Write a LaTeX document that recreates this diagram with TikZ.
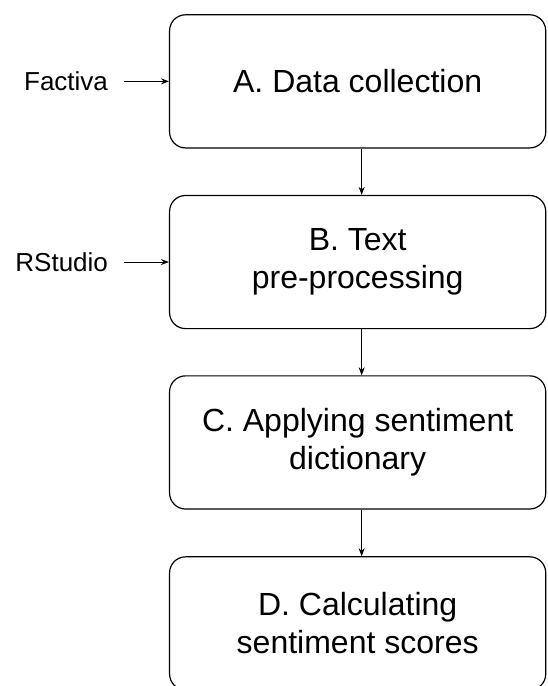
\documentclass[tikz,border=0pt]{standalone}
\usepackage{fontspec}
\setmainfont{Liberation Sans}
\usetikzlibrary{arrows.meta}

\tikzset{
	stagebox/.style={draw, line width=1.2pt, rounded corners=16pt, align=center,
		minimum width=13.22cm, minimum height=4.68cm, inner sep=0pt,
		font=\fontsize{32}{38}\selectfont},
	toollabel/.style={anchor=east, inner sep=0pt, font=\fontsize{26}{30}\selectfont},
	flow/.style={-{Stealth[length=8pt,width=6pt]}, line width=1pt}
}

\begin{document}
\begin{tikzpicture}
	\useasboundingbox (0,0) rectangle (19.23,24.11);
	
	%stages
	\node[stagebox] (collect) 	at (12.57,21.25) 	{A. Data collection};
	\node[stagebox] (prep) 		at (12.57,14.90) 	{B. Text\\pre-processing};
	\node[stagebox] (dict) 		at (12.57,8.56) 	{C. Applying sentiment\\dictionary};
	\node[stagebox] (score) 	at (12.57,2.20) 	{D. Calculating\\sentiment scores};
	
	%tools
	\node[toollabel] (factiva) 	at (3.80,21.25) 	{Factiva};
	\node[toollabel] (rstudio) 	at (3.80,14.90) 	{RStudio};
	
	%arrows
	\draw[flow, shorten <=16pt]	(factiva.east) -- (collect.west);
	\draw[flow, shorten <=16pt]	(rstudio.east) -- (prep.west);
	\draw[flow]	([xshift=4pt]collect.south) -- ([xshift=4pt]prep.north);
	\draw[flow]	([xshift=4pt]prep.south) -- ([xshift=4pt]dict.north);
	\draw[flow]	([xshift=4pt]dict.south) -- ([xshift=4pt]score.north);
\end{tikzpicture}
\end{document}
